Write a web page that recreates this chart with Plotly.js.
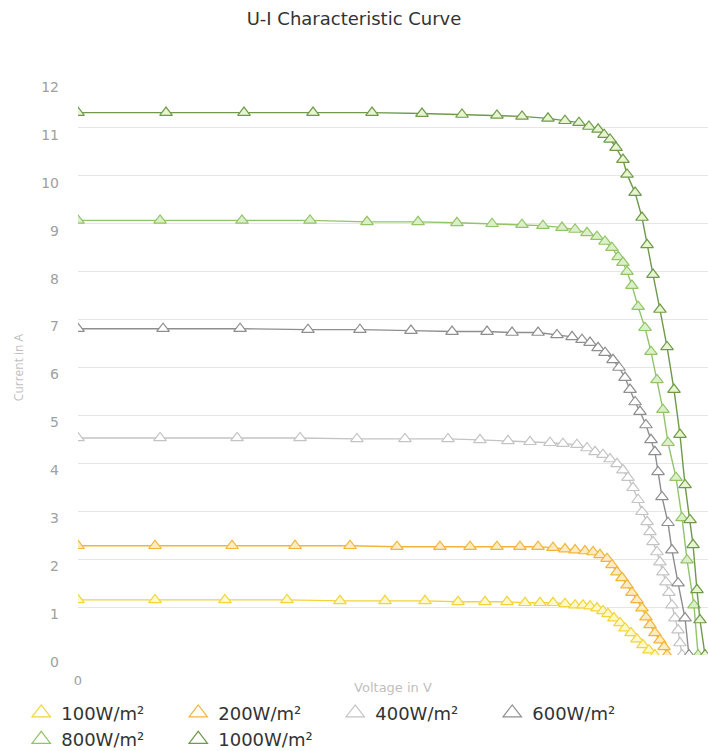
<!DOCTYPE html>
<html>
<head>
<meta charset="utf-8">
<script src="https://cdn.plot.ly/plotly-3.0.1.min.js"></script>
<style>html,body{margin:0;padding:0;background:#fff;}#chart{width:708px;height:751px;}</style>
</head>
<body>
<div id="chart"></div>
<script>
var seriesNames = ["100W/m²", "200W/m²", "400W/m²", "600W/m²", "800W/m²", "1000W/m²"];

var v100 = [0, 4.89, 9.33, 13.27, 16.63, 19.49, 22.03, 24.13, 25.84, 27.24, 28.38, 29.33, 30.16, 30.92, 31.56, 32.06, 32.51, 32.95, 33.33, 33.65, 34.03, 34.41, 34.73, 35.11, 35.49, 35.87, 36.25, 36.63];
var i100 = [1.15, 1.15, 1.15, 1.15, 1.13, 1.13, 1.13, 1.11, 1.11, 1.11, 1.09, 1.09, 1.09, 1.07, 1.04, 1.04, 1.02, 0.98, 0.92, 0.86, 0.77, 0.67, 0.56, 0.46, 0.33, 0.21, 0.10, 0];

var v200 = [0, 4.89, 9.78, 13.78, 17.27, 20.25, 22.98, 24.89, 26.60, 28.06, 29.21, 30.16, 30.92, 31.56, 32.19, 32.70, 33.14, 33.59, 33.90, 34.22, 34.54, 34.86, 35.17, 35.49, 35.81, 36.06, 36.32, 36.63, 36.95, 37.21, 37.40];
var i200 = [2.28, 2.28, 2.28, 2.28, 2.28, 2.26, 2.26, 2.26, 2.26, 2.26, 2.26, 2.24, 2.21, 2.19, 2.17, 2.15, 2.09, 2.01, 1.88, 1.73, 1.61, 1.46, 1.30, 1.15, 0.98, 0.79, 0.63, 0.46, 0.31, 0.17, 0];

var v400 = [0, 5.21, 10.10, 14.10, 17.71, 20.76, 23.49, 25.52, 27.30, 28.70, 29.97, 30.79, 31.68, 32.32, 32.83, 33.33, 33.78, 34.22, 34.60, 34.92, 35.24, 35.56, 35.81, 36.13, 36.32, 36.51, 36.76, 36.95, 37.14, 37.33, 37.52, 37.71, 37.90, 38.10, 38.22, 38.35];
var i400 = [4.53, 4.53, 4.53, 4.53, 4.51, 4.51, 4.51, 4.49, 4.47, 4.45, 4.43, 4.41, 4.39, 4.32, 4.24, 4.18, 4.09, 3.99, 3.86, 3.70, 3.49, 3.24, 2.99, 2.78, 2.57, 2.36, 2.15, 1.94, 1.73, 1.52, 1.30, 1.04, 0.77, 0.52, 0.25, 0];

var v600 = [0, 5.40, 10.29, 14.60, 17.90, 21.14, 23.75, 25.97, 27.56, 29.21, 30.41, 31.37, 32.00, 32.51, 33.02, 33.46, 33.97, 34.35, 34.73, 35.05, 35.37, 35.68, 36.06, 36.38, 36.63, 36.83, 37.08, 37.46, 37.71, 38.10, 38.54, 38.79];
var i600 = [6.81, 6.81, 6.81, 6.79, 6.79, 6.77, 6.75, 6.75, 6.73, 6.73, 6.68, 6.64, 6.58, 6.52, 6.41, 6.31, 6.16, 6.00, 5.79, 5.54, 5.28, 5.08, 4.80, 4.49, 4.24, 3.82, 3.30, 2.76, 2.19, 1.50, 0.77, 0];

var v800 = [0, 5.21, 10.41, 14.73, 18.35, 21.59, 24.06, 26.29, 28.19, 29.52, 30.73, 31.56, 32.32, 32.95, 33.46, 33.90, 34.29, 34.60, 34.86, 35.17, 35.56, 36.00, 36.38, 36.76, 37.14, 37.46, 37.97, 38.35, 38.67, 39.11, 39.37];
var i800 = [9.07, 9.07, 9.07, 9.07, 9.04, 9.04, 9.02, 9.00, 8.98, 8.96, 8.92, 8.88, 8.81, 8.73, 8.63, 8.50, 8.31, 8.19, 8.00, 7.71, 7.27, 6.83, 6.33, 5.74, 5.12, 4.43, 3.70, 2.86, 1.98, 1.04, 0];

var v1000 = [0, 5.59, 10.54, 14.92, 18.67, 21.84, 24.38, 26.60, 28.19, 29.84, 30.92, 31.81, 32.44, 33.02, 33.40, 33.78, 34.16, 34.60, 34.86, 35.37, 35.81, 36.13, 36.51, 36.95, 37.40, 37.84, 38.22, 38.54, 38.86, 39.05, 39.30, 39.49, 39.81];
var i1000 = [11.32, 11.32, 11.32, 11.32, 11.32, 11.30, 11.28, 11.26, 11.24, 11.20, 11.15, 11.11, 11.03, 10.97, 10.86, 10.76, 10.59, 10.34, 10.03, 9.65, 9.13, 8.56, 7.94, 7.21, 6.43, 5.54, 4.60, 3.55, 2.82, 2.30, 1.36, 0.73, 0];

var xTickVals = [0];
var xTickText = ["0"];

var voltages = [v100, v200, v400, v600, v800, v1000];
var currents = [i100, i200, i400, i600, i800, i1000];
var lineColors = ["#f3d43a", "#f2b53a", "#c4c4c4", "#8e8e8e", "#92c46a", "#6f9a4c"];
var fillColors = ["#fff8c8", "#fdebc4", "#ffffff", "#ffffff", "#dcf0c8", "#e8f5cf"];

var traces = [];
for (var k = 0; k < seriesNames.length; k++) {
  traces.push({
    type: "scatter", mode: "lines+markers", name: seriesNames[k],
    x: voltages[k], y: currents[k], showlegend: false, legendgroup: "g" + k,
    line: {color: lineColors[k], width: 1.4},
    marker: {symbol: "triangle-up", size: 11, color: fillColors[k], line: {color: lineColors[k], width: 1.2}},
    hoverinfo: "x+y+name"
  });
}
for (var k = 0; k < seriesNames.length; k++) {
  traces.push({
    type: "scatter", mode: "markers", name: seriesNames[k],
    x: [null], y: [null], showlegend: true, legendgroup: "g" + k,
    marker: {symbol: "triangle-up", size: 16, color: "#ffffff", line: {color: lineColors[k], width: 1.2}}
  });
}

var wide = "DejaVu Sans, Verdana, sans-serif";
var layout = {
  width: 708, height: 751,
  margin: {l: 78, r: 0, t: 80, b: 96},
  paper_bgcolor: "#ffffff", plot_bgcolor: "#ffffff",
  font: {family: wide, color: "#333333"},
  title: {text: "U-I Characteristic Curve", font: {family: wide, size: 18, color: "#333333"}, x: 0.5, xanchor: "center", y: 0.975, yanchor: "middle"},
  xaxis: {
    range: [0, 40], tickvals: xTickVals, ticktext: xTickText,
    showgrid: true, gridcolor: "#e6e6e6", zeroline: false, showline: false,
    ticks: "", ticklabelstandoff: 16, tickfont: {family: wide, size: 13, color: "#a0a0a0"},
    title: {text: "Voltage in V", font: {family: wide, size: 13, color: "#c0c0c0"}, standoff: 4},
    automargin: false
  },
  yaxis: {
    range: [0, 12], dtick: 1, tick0: 0,
    showgrid: true, gridcolor: "#e6e6e6", zeroline: false, showline: false,
    ticks: "", ticklabelstandoff: 18, ticklabelshift: 7, tickfont: {family: wide, size: 14, color: "#a0a0a0"},
    title: {text: "Current in A", font: {family: "Open Sans, sans-serif", size: 12, color: "#c0c0c0"}, standoff: 14},
    automargin: false
  },
  legend: {
    orientation: "h", xref: "container", yref: "container",
    x: 0.03, xanchor: "left", y: 0.075, yanchor: "top",
    font: {family: wide, size: 18, color: "#333333"}, entrywidth: 112, tracegroupgap: 0,
    itemsizing: "trace", bgcolor: "rgba(0,0,0,0)"
  },
  showlegend: true
};

Plotly.newPlot("chart", traces, layout, {displayModeBar: false, staticPlot: true});
</script>
</body>
</html>
